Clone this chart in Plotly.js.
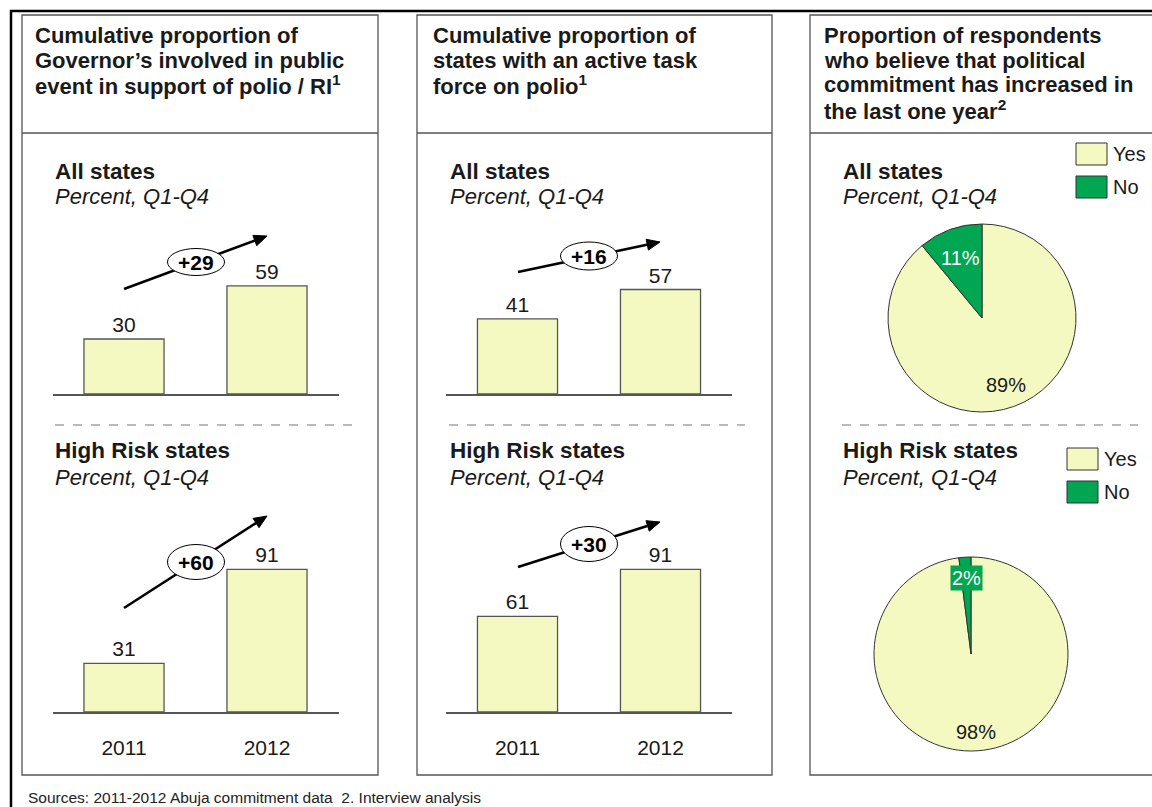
<!DOCTYPE html>
<html>
<head>
<meta charset="utf-8">
<script src="https://cdn.plot.ly/plotly-3.0.1.min.js"></script>
<style>html,body{margin:0;padding:0;background:#fff;}#chart{width:1152px;height:807px;}</style>
</head>
<body>
<div id="chart"></div>
<script>
// ---------- DATA ----------
const years = ['2011', '2012'];
const governorAll = [30, 59];
const governorHighRisk = [31, 91];
const taskForceAll = [41, 57];
const taskForceHighRisk = [61, 91];
const pieLabels = ['Yes', 'No'];
const commitmentAll = [89, 11];
const commitmentHighRisk = [98, 2];

// ---------- HELPERS ----------
const W = 1152, H = 807;
const X = p => p / W;
const Y = p => 1 - p / H;
const FONT = 'Liberation Sans, Arial, sans-serif';
const BAR_FILL = '#F4F9C1';
const GREEN = '#00A651';
const TXT = '#1a1a1a';

function barTrace(vals, xa, ya) {
  return {
    type: 'bar', x: years, y: vals, xaxis: xa, yaxis: ya,
    width: 0.56,
    marker: {color: BAR_FILL, line: {color: '#555', width: 1.3}},
    text: vals.map(String), textposition: 'outside', cliponaxis: false,
    textfont: {family: FONT, size: 21, color: TXT},
    hoverinfo: 'none', showlegend: false
  };
}

const pieGeo = {
  top: {cx: 982, cy: 318, r: 94},
  bot: {cx: 971, cy: 654, r: 97}
};
function pieTrace(vals, g) {
  return {
    type: 'pie', labels: pieLabels, values: vals, sort: false,
    direction: 'clockwise', rotation: 0,
    marker: {colors: [BAR_FILL, GREEN], line: {color: '#333', width: 1}},
    textinfo: 'none', hoverinfo: 'none', showlegend: false,
    domain: {x: [X(g.cx - g.r), X(g.cx + g.r)], y: [Y(g.cy + g.r), Y(g.cy - g.r)]}
  };
}

const data = [
  barTrace(governorAll, 'x', 'y'),
  barTrace(governorHighRisk, 'x2', 'y2'),
  barTrace(taskForceAll, 'x3', 'y3'),
  barTrace(taskForceHighRisk, 'x4', 'y4'),
  pieTrace(commitmentAll, pieGeo.top),
  pieTrace(commitmentHighRisk, pieGeo.bot)
];

// axes geometry
const topBase = 394, topScale = 1.833;
const botBase = 712, botScale = 1.567;
function xax(left, showLabels, anchor) {
  return {
    domain: [X(left), X(left + 286)], range: [-0.5, 1.5], type: 'category',
    anchor: anchor, showline: true, linecolor: '#555', linewidth: 1.5,
    showgrid: false, zeroline: false, ticks: '', fixedrange: true,
    showticklabels: showLabels, ticklabelstandoff: 16,
    tickfont: {family: FONT, size: 21, color: TXT}
  };
}
function yax(base, scale, anchor) {
  return {domain: [Y(base), Y(base - 100 * scale)], range: [0, 100], visible: false, anchor: anchor, fixedrange: true};
}

const shapes = [];
const annotations = [];

// outer frame lines
shapes.push({type: 'line', xref: 'paper', yref: 'paper', x0: X(10), x1: X(1160), y0: Y(11), y1: Y(11), line: {color: '#000', width: 2.5}});
shapes.push({type: 'line', xref: 'paper', yref: 'paper', x0: X(11), x1: X(11), y0: Y(10), y1: Y(810), line: {color: '#000', width: 2.5}});

// panels
const panels = [
  {x0: 22, x1: 378, tx: 33, dash: [55, 352],
   title: ['Cumulative proportion of', 'Governor’s involved in public', 'event in support of polio / RI<sup>1</sup>']},
  {x0: 417, x1: 772, tx: 431, dash: [449, 745],
   title: ['Cumulative proportion of', 'states with an active task', 'force on polio<sup>1</sup>']},
  {x0: 810, x1: 1170, tx: 822, dash: [842, 1138],
   title: ['Proportion of respondents', 'who believe that political', 'commitment has increased in', 'the last one year<sup>2</sup>']}
];
panels.forEach(p => {
  shapes.push({type: 'rect', xref: 'paper', yref: 'paper', x0: X(p.x0), x1: X(p.x1), y0: Y(15), y1: Y(775), line: {color: '#555', width: 1.3}});
  shapes.push({type: 'line', xref: 'paper', yref: 'paper', x0: X(p.x0), x1: X(p.x1), y0: Y(133), y1: Y(133), line: {color: '#555', width: 1.3}});
  shapes.push({type: 'line', xref: 'paper', yref: 'paper', x0: X(p.dash[0]), x1: X(p.dash[1]), y0: Y(425), y1: Y(425), line: {color: '#777', width: 1.2, dash: 'dash'}});
  p.title.forEach((t, i) => {
    annotations.push({xref: 'paper', yref: 'paper', x: X(p.tx), y: Y(35.5 + i * 24.7), xanchor: 'left', yanchor: 'middle',
      text: '<b>' + t + '</b>', showarrow: false, font: {family: FONT, size: 22, color: TXT}});
  });
  const sx = p.x0 + 31;
  [[171, 197, 'All states'], [451, 477, 'High Risk states']].forEach(s => {
    annotations.push({xref: 'paper', yref: 'paper', x: X(sx), y: Y(s[0]), xanchor: 'left', yanchor: 'middle',
      text: '<b>' + s[2] + '</b>', showarrow: false, font: {family: FONT, size: 22.5, color: TXT}});
    annotations.push({xref: 'paper', yref: 'paper', x: X(sx), y: Y(s[1]), xanchor: 'left', yanchor: 'middle',
      text: '<i>Percent, Q1-Q4</i>', showarrow: false, font: {family: FONT, size: 22, color: TXT}});
  });
});

// growth arrows with ellipse labels
function growth(vals, start, end, ell) {
  const dx = end[0] - start[0], dy = end[1] - start[1];
  const len = Math.hypot(dx, dy);
  const ux = dx / len, uy = dy / len;
  const nx = -uy, ny = ux;
  const hl = 13, hw = 5.5;
  const bx = end[0] - hl * ux, by = end[1] - hl * uy;
  shapes.push({type: 'line', xref: 'paper', yref: 'paper', x0: X(start[0]), y0: Y(start[1]), x1: X(bx + 2 * ux), y1: Y(by + 2 * uy), line: {color: '#000', width: 2.6}});
  shapes.push({type: 'path', xref: 'paper', yref: 'paper',
    path: 'M' + X(end[0]) + ',' + Y(end[1]) + ' L' + X(bx + hw * nx) + ',' + Y(by + hw * ny) + ' L' + X(bx - hw * nx) + ',' + Y(by - hw * ny) + ' Z',
    fillcolor: '#000', line: {color: '#000', width: 1}});
  shapes.push({type: 'circle', xref: 'paper', yref: 'paper', x0: X(ell[0] - ell[2] / 2), x1: X(ell[0] + ell[2] / 2),
    y0: Y(ell[1] + ell[3] / 2), y1: Y(ell[1] - ell[3] / 2), fillcolor: '#fff', line: {color: '#000', width: 1}});
  annotations.push({xref: 'paper', yref: 'paper', x: X(ell[0]), y: Y(ell[1]), xanchor: 'center', yanchor: 'middle',
    text: '<b>+' + (vals[1] - vals[0]) + '</b>', showarrow: false, font: {family: FONT, size: 21, color: '#000'}});
}
growth(governorAll, [124, 289], [267, 236], [196, 262, 57, 27]);
growth(governorHighRisk, [124, 608], [267, 516], [196, 562, 57, 35]);
growth(taskForceAll, [518, 272], [660, 242], [589, 256, 57, 28]);
growth(taskForceHighRisk, [518, 567], [660, 522], [589, 544, 57, 35]);

// pie labels (slices go clockwise from 12 o'clock)
function pieLabel(vals, g, idx, frac, opts) {
  const before = vals.slice(0, idx).reduce((a, b) => a + b, 0);
  const total = vals.reduce((a, b) => a + b, 0);
  const mid = (before + vals[idx] / 2) / total * 2 * Math.PI;
  const rr = g.r * frac;
  const px = g.cx + rr * Math.sin(mid);
  const py = g.cy - rr * Math.cos(mid);
  annotations.push(Object.assign({xref: 'paper', yref: 'paper', x: X(px), y: Y(py), xanchor: 'center', yanchor: 'middle',
    text: vals[idx] + '%', showarrow: false}, opts));
}
pieLabel(commitmentAll, pieGeo.top, 1, 0.68, {font: {family: FONT, size: 20, color: '#fff'}});
pieLabel(commitmentAll, pieGeo.top, 0, 0.76, {font: {family: FONT, size: 20, color: TXT}});
pieLabel(commitmentHighRisk, pieGeo.bot, 1, 0.79, {font: {family: FONT, size: 20, color: '#fff'}, bgcolor: GREEN, borderpad: 1});
pieLabel(commitmentHighRisk, pieGeo.bot, 0, 0.81, {font: {family: FONT, size: 20, color: TXT}});

// legends (drawn boxes)
function legendBox(x0, yYes, yNo) {
  [[yYes, BAR_FILL, pieLabels[0]], [yNo, GREEN, pieLabels[1]]].forEach(it => {
    shapes.push({type: 'rect', xref: 'paper', yref: 'paper', x0: X(x0), x1: X(x0 + 31), y0: Y(it[0] + 11), y1: Y(it[0] - 11),
      fillcolor: it[1], line: {color: '#333', width: 1}});
    annotations.push({xref: 'paper', yref: 'paper', x: X(x0 + 35), y: Y(it[0]), xanchor: 'left', yanchor: 'middle',
      text: it[2], showarrow: false, font: {family: FONT, size: 20, color: TXT}});
  });
}
legendBox(1076, 154, 187);
legendBox(1067, 459, 492);

// footnote
annotations.push({xref: 'paper', yref: 'paper', x: X(26), y: Y(797), xanchor: 'left', yanchor: 'middle',
  text: 'Sources: 2011-2012 Abuja commitment data  2. Interview analysis', showarrow: false,
  font: {family: FONT, size: 15.5, color: '#222'}});

const layout = {
  width: W, height: H, margin: {l: 0, r: 0, t: 0, b: 0},
  paper_bgcolor: '#fff', plot_bgcolor: 'rgba(0,0,0,0)',
  showlegend: false, font: {family: FONT},
  xaxis: xax(52.5, false, 'y'),
  yaxis: yax(topBase, topScale, 'x'),
  xaxis2: xax(52.5, true, 'y2'),
  yaxis2: yax(botBase, botScale, 'x2'),
  xaxis3: xax(446, false, 'y3'),
  yaxis3: yax(topBase, topScale, 'x3'),
  xaxis4: xax(446, true, 'y4'),
  yaxis4: yax(botBase, botScale, 'x4'),
  shapes: shapes, annotations: annotations
};

Plotly.newPlot('chart', data, layout, {displayModeBar: false, staticPlot: true});
</script>
</body>
</html>
